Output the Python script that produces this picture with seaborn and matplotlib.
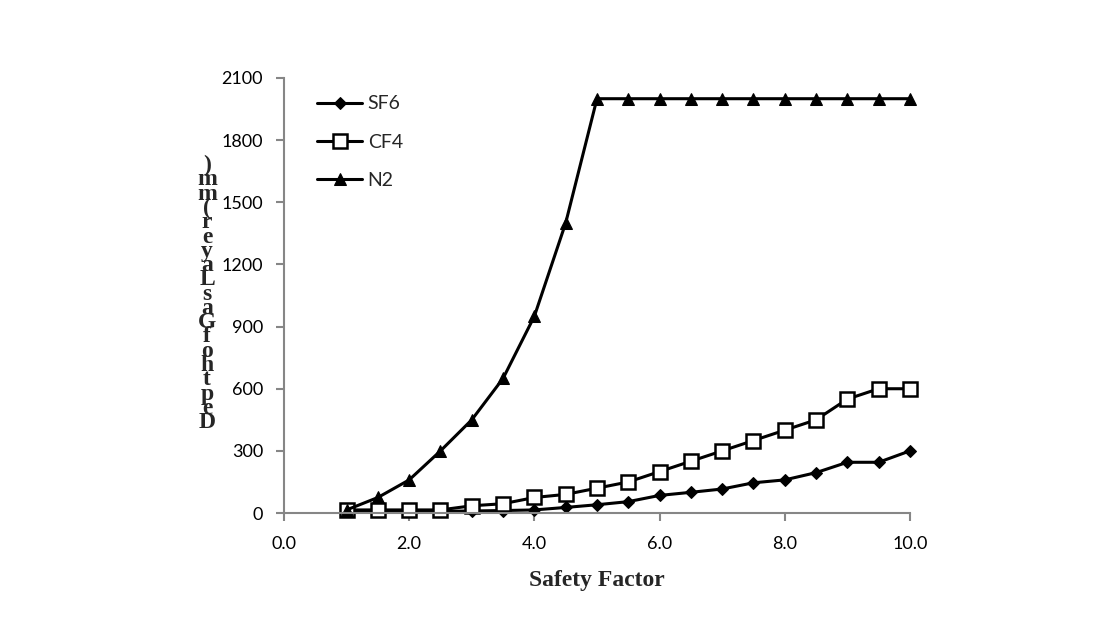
import numpy as np
import pandas as pd
import matplotlib
matplotlib.use("Agg")
import matplotlib.pyplot as plt
import seaborn as sns

# safety factor values (x)
safety_factor = [1.0, 1.5, 2.0, 2.5, 3.0, 3.5, 4.0, 4.5, 5.0, 5.5,
                 6.0, 6.5, 7.0, 7.5, 8.0, 8.5, 9.0, 9.5, 10.0]

# depth of gas layer (mm) per gas
sf6 = [8, 8, 8, 8, 10, 12, 15, 27, 40, 55, 85, 100, 116, 146, 160, 195, 245, 245, 300]
cf4 = [15, 15, 15, 15, 35, 45, 75, 90, 120, 150, 200, 250, 300, 350, 400, 450, 550, 600, 600]
n2 = [15, 75, 160, 300, 450, 650, 950, 1400, 2000, 2000, 2000, 2000, 2000, 2000,
      2000, 2000, 2000, 2000, 2000]

x_ticks = [0, 2, 4, 6, 8, 10]
y_ticks = [0, 300, 600, 900, 1200, 1500, 1800, 2100]
y_label = "DepthofGasLayer(mm)"

sns.set_style("white")
plt.rcParams['font.family'] = ['Lato', 'DejaVu Sans']

fig = plt.figure(figsize=(11.15, 6.17), dpi=100)
ax = fig.add_axes([0.2547, 0.1685, 0.5614, 0.7051])

df = pd.DataFrame({'x': safety_factor, 'SF6': sf6, 'CF4': cf4, 'N2': n2})

sns.lineplot(data=df, x='x', y='SF6', ax=ax, color='black', lw=2.2,
             marker='D', markersize=6.5, markeredgecolor='black', label='SF6',
             clip_on=False)
sns.lineplot(data=df, x='x', y='CF4', ax=ax, color='black', lw=2.2,
             marker='s', markersize=9.5, markerfacecolor='white',
             markeredgecolor='black', markeredgewidth=1.8, label='CF4',
             clip_on=False)
sns.lineplot(data=df, x='x', y='N2', ax=ax, color='black', lw=2.2,
             marker='^', markersize=8.5, markeredgecolor='black', label='N2',
             clip_on=False)

ax.set_xlim(0, 10)
ax.set_ylim(0, 2100)
ax.set_xticks(x_ticks)
ax.set_xticklabels([f"{v:.1f}" for v in x_ticks])
ax.set_yticks(y_ticks)
ax.set_yticklabels([str(v) for v in y_ticks])

for s in ['top', 'right']:
    ax.spines[s].set_visible(False)
for s in ['left', 'bottom']:
    ax.spines[s].set_color('#868686')
    ax.spines[s].set_linewidth(1.5)
ax.tick_params(axis='both', direction='out', length=5.5, width=1.5,
               color='#868686', labelsize=13, labelcolor='black',
               bottom=True, left=True)
ax.tick_params(axis='x', pad=11)
ax.tick_params(axis='y', pad=9.5)

ax.set_xlabel("Safety Factor", family='Liberation Serif', fontweight='bold',
              fontsize=17, labelpad=13)
ax.set_ylabel("")

# stacked y label, reading bottom to top
fig.text(207 / 1115, 1 - 294 / 617, "\n".join(reversed(y_label)),
         family='Liberation Serif', fontweight='bold', fontsize=17,
         ha='center', va='center', linespacing=0.58)

leg = ax.legend(loc='upper left', bbox_to_anchor=(0.025, 1.0), frameon=False,
                fontsize=14, handlelength=2.3, handletextpad=0.3,
                labelspacing=1.1)

fig.savefig("out.png", dpi=100)
